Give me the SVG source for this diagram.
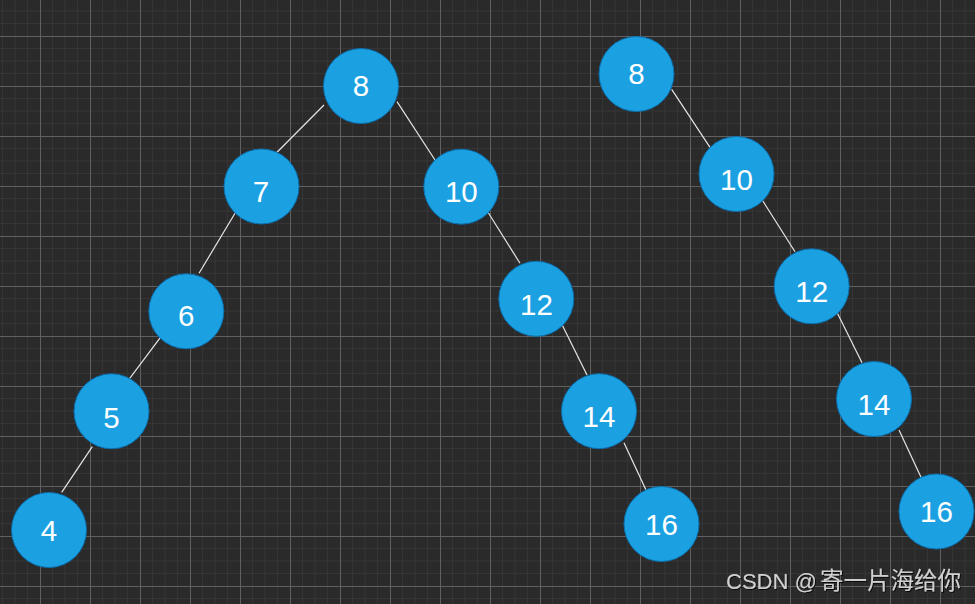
<svg xmlns="http://www.w3.org/2000/svg" width="975" height="604" viewBox="0 0 975 604">
<defs>
<pattern id="grid" x="40" y="36" width="50" height="50" patternUnits="userSpaceOnUse">
<rect width="50" height="50" fill="#2a2a2a"/>
<path d="M12.5 0V50M25 0V50M37.5 0V50M0 12.5H50M0 25H50M0 37.5H50" stroke="#353535" stroke-width="1" fill="none"/>
<path d="M0.5 0V50M0 0.5H50" stroke="#606060" stroke-width="1" fill="none"/>
</pattern>
<filter id="sh" x="-5%" y="-20%" width="110%" height="150%">
<feDropShadow dx="1" dy="1" stdDeviation="0.6" flood-color="#000" flood-opacity="0.8"/>
</filter>
</defs>
<style>
.n circle{fill:#1ba1e2;stroke:#0a6fae;stroke-width:1}
.n text{fill:#ffffff;font-family:"Liberation Sans",Arial,sans-serif;font-size:29.5px;text-anchor:middle}
.e line{stroke:#e6e6e6;stroke-width:1.2}
</style>
<rect width="975" height="604" fill="url(#grid)"/>
<g id="connectors" class="e">
<line x1="324" y1="105" x2="274.3" y2="155"/>
<line x1="397" y1="101.7" x2="435" y2="160"/>
<line x1="235" y1="213.3" x2="199" y2="273.3"/>
<line x1="161" y1="336.7" x2="124.3" y2="385.7"/>
<line x1="92.3" y1="446.7" x2="61.7" y2="492.3"/>
<line x1="488.3" y1="212.7" x2="520" y2="263.3"/>
<line x1="561.7" y1="324" x2="587" y2="375"/>
<line x1="624" y1="442.7" x2="646" y2="490"/>
<line x1="671.7" y1="89.3" x2="710" y2="147.3"/>
<line x1="762.7" y1="200.7" x2="795" y2="251.7"/>
<line x1="836.7" y1="311.7" x2="862" y2="362.7"/>
<line x1="899" y1="430" x2="921" y2="477.3"/>
</g>
<g id="t1-8" class="n"><circle cx="361" cy="86" r="37.5"/><text x="361" y="95.5">8</text></g>
<g id="t1-7" class="n"><circle cx="261.5" cy="186.5" r="37.5"/><text x="261" y="202">7</text></g>
<g id="t1-10" class="n"><circle cx="461.3" cy="186.7" r="37.5"/><text x="461.3" y="202">10</text></g>
<g id="t1-6" class="n"><circle cx="186.3" cy="311.3" r="37.5"/><text x="186.3" y="326">6</text></g>
<g id="t1-5" class="n"><circle cx="111.5" cy="411.3" r="37.5"/><text x="111.5" y="427.5">5</text></g>
<g id="t1-4" class="n"><circle cx="49" cy="530" r="37.5"/><text x="49" y="541">4</text></g>
<g id="t1-12" class="n"><circle cx="536.3" cy="298.8" r="37.5"/><text x="536.5" y="315">12</text></g>
<g id="t1-14" class="n"><circle cx="599" cy="411.2" r="37.5"/><text x="599" y="426.7">14</text></g>
<g id="t1-16" class="n"><circle cx="661.5" cy="524" r="37.5"/><text x="661.5" y="534.5">16</text></g>
<g id="t2-8" class="n"><circle cx="636.5" cy="74" r="37.5"/><text x="636.5" y="84">8</text></g>
<g id="t2-10" class="n"><circle cx="736.5" cy="174" r="37.5"/><text x="736.5" y="190">10</text></g>
<g id="t2-12" class="n"><circle cx="811.7" cy="286.3" r="37.5"/><text x="811.7" y="301.7">12</text></g>
<g id="t2-14" class="n"><circle cx="874" cy="399" r="37.5"/><text x="874" y="415">14</text></g>
<g id="t2-16" class="n"><circle cx="936.5" cy="511.5" r="37.5"/><text x="936.5" y="521.5">16</text></g>
<g id="watermark" filter="url(#sh)">
<text x="726" y="588.5" fill="#d0d0d0" font-family="'Liberation Sans',Arial,sans-serif" font-size="22">CSDN @<tspan x="820" font-family="'Noto Sans CJK SC',sans-serif" font-size="23.5">寄一片海给你</tspan></text>
</g>
</svg>
